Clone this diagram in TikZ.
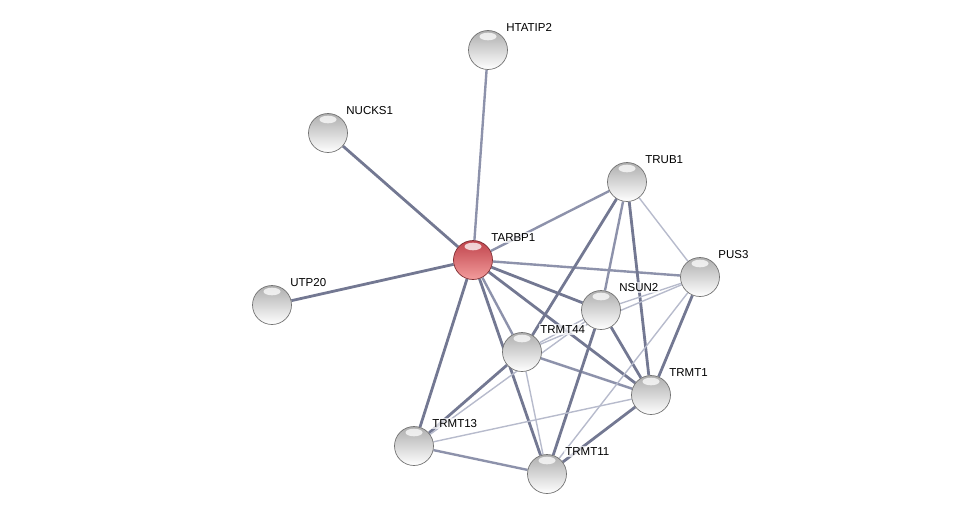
\documentclass[tikz,border=0pt]{standalone}
\usepackage{fontspec}
\setmainfont{Liberation Sans}
\usepackage{tikz}
\usetikzlibrary{backgrounds}
\definecolor{stringEdge}{HTML}{8D92AB}
\definecolor{stringDark}{HTML}{737892}
\definecolor{stringLight}{HTML}{B7BBCC}
\definecolor{stringRedTop}{HTML}{BF434B}
\definecolor{stringRedBot}{HTML}{F39C9C}
\definecolor{stringRedRim}{HTML}{7E2E33}

\begin{document}
\begin{tikzpicture}[
  x=1pt, y=-1pt,
  font=\fontsize{11.5}{13}\selectfont,
  shine/.style={path picture={\fill[white, opacity=.75] ([yshift=-6pt]path picture bounding box.north) ellipse (8.5pt and 3.8pt);}},
  prot/.style={circle, minimum size=39pt, inner sep=0pt, top color=black!32, middle color=black!15, bottom color=white,
               draw=black!55, line width=.7pt, shine},
  query/.style={prot, top color=stringRedTop, middle color=stringRedTop!60!stringRedBot, bottom color=stringRedBot, draw=stringRedRim},
  tag/.style={anchor=west, fill=white, fill opacity=.7, text opacity=1, inner sep=1.2pt},
  link/.style={line width=2.4pt, draw=stringEdge},
  strong/.style={line width=2.8pt, draw=stringDark},
  weak/.style={line width=1.4pt, draw=stringLight}
]
  \useasboundingbox (0,0) rectangle (976,519);

  \node[query] (tarbp1) at (473,260) {};
  \node[prot] (htatip2) at (488,50) {};
  \node[prot] (nucks1) at (328,133) {};
  \node[prot] (utp20) at (272,305) {};
  \node[prot] (trub1) at (627,182) {};
  \node[prot] (pus3) at (700,277) {};
  \node[prot] (nsun2) at (601,310) {};
  \node[prot] (trmt44) at (522,352) {};
  \node[prot] (trmt1) at (651,395) {};
  \node[prot] (trmt13) at (414,446) {};
  \node[prot] (trmt11) at (547,474) {};

  \foreach \n/\t in {tarbp1/TARBP1,htatip2/HTATIP2,nucks1/NUCKS1,utp20/UTP20,trub1/TRUB1,pus3/PUS3,
                     nsun2/NSUN2,trmt44/TRMT44,trmt1/TRMT1,trmt13/TRMT13,trmt11/TRMT11} {
    \node[tag] (\n-tag) at ([shift={(17,-22.5)}]\n.center) {\t};
  }

  \begin{scope}[on background layer]
    \foreach \a/\b in {tarbp1/htatip2,tarbp1/trub1,tarbp1/pus3,tarbp1/trmt44,trub1/nsun2,trmt44/trmt1,trmt13/trmt11} {
      \draw[link] (\a) -- (\b);
    }
    \foreach \a/\b in {tarbp1/nucks1,tarbp1/utp20,tarbp1/nsun2,tarbp1/trmt1,tarbp1/trmt11,tarbp1/trmt13,
                       trub1/trmt44,trub1/trmt1,pus3/trmt1,nsun2/trmt1,nsun2/trmt11,trmt44/trmt13,trmt1/trmt11} {
      \draw[strong] (\a) -- (\b);
    }
    \foreach \a/\b in {trub1/pus3,pus3/nsun2,pus3/trmt44,pus3/trmt11,nsun2/trmt44,nsun2/trmt13,
                       trmt44/trmt11,trmt1/trmt13} {
      \draw[weak] (\a) -- (\b);
    }
  \end{scope}
\end{tikzpicture}
\end{document}
